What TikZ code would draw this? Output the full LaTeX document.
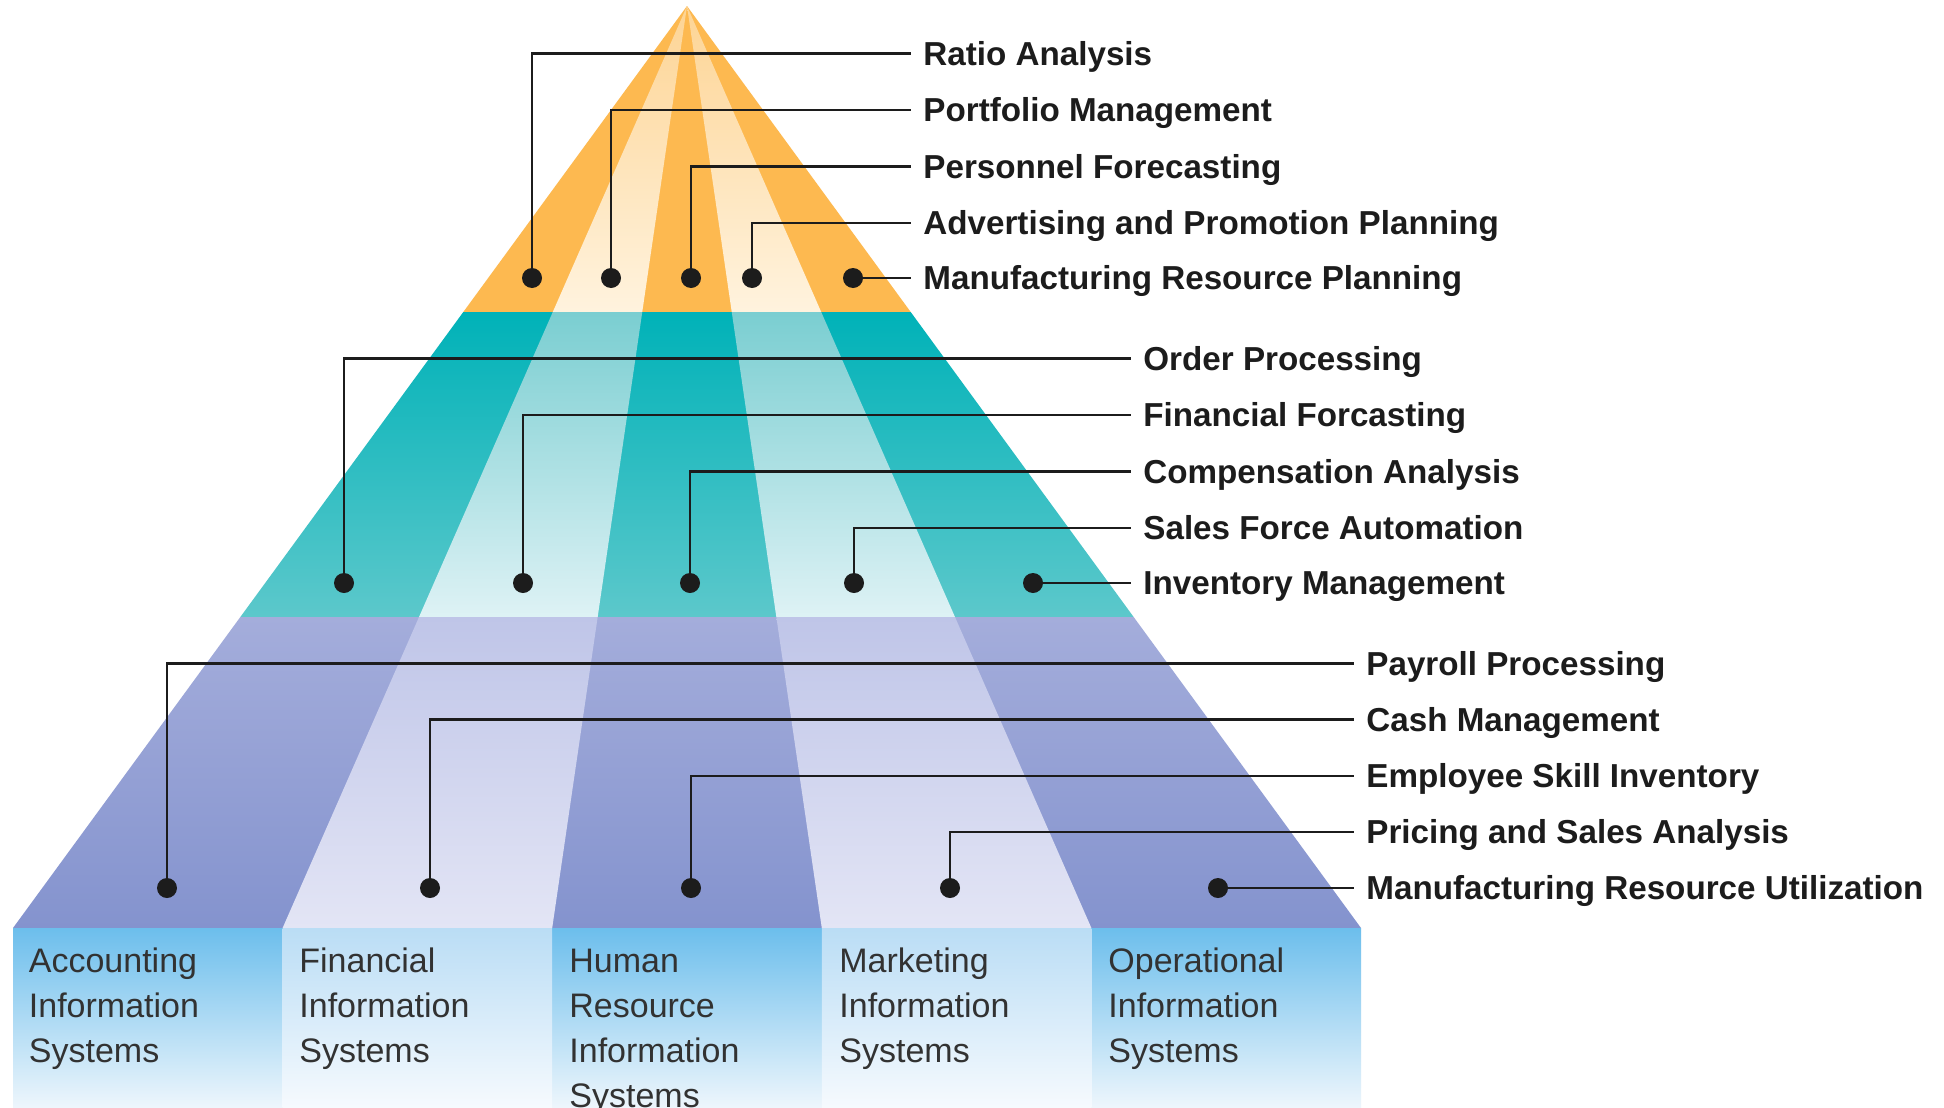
\documentclass[tikz,border=0pt]{standalone}
\usepackage{fontspec}
\setmainfont{Liberation Sans}
\usetikzlibrary{calc}
\definecolor{orD}{RGB}{253,185,80}
\definecolor{orLt}{RGB}{253,212,148}
\definecolor{orLb}{RGB}{255,243,222}
\definecolor{tlDt}{RGB}{0,178,184}
\definecolor{tlDb}{RGB}{92,200,203}
\definecolor{tlLt}{RGB}{122,206,209}
\definecolor{tlLb}{RGB}{222,242,245}
\definecolor{puDt}{RGB}{164,173,219}
\definecolor{puDb}{RGB}{132,147,206}
\definecolor{puLt}{RGB}{191,197,232}
\definecolor{puLb}{RGB}{227,229,245}
\definecolor{bxDt}{RGB}{108,190,236}
\definecolor{bxDb}{RGB}{238,246,252}
\definecolor{bxLt}{RGB}{186,221,245}
\definecolor{bxLb}{RGB}{246,250,254}
\definecolor{ink}{RGB}{28,28,28}
\definecolor{ink2}{RGB}{50,50,50}
\tikzset{
  dot/.style={circle, fill=ink, minimum size=10pt, inner sep=0pt},
  lab/.style={anchor=west, font=\bfseries\fontsize{16.6}{20}\selectfont, text=ink,
    inner xsep=6pt, inner ysep=0pt, text height=11.9pt, text depth=0pt},
  leader/.style={draw=ink, line width=1.3pt},
  boxlab/.style={anchor=north west, font=\fontsize{17}{22.5}\selectfont, text=ink2,
    align=left, inner sep=0pt}
}
\begin{document}
\begin{tikzpicture}[x=0.5pt,y=-0.5pt]
\useasboundingbox (0,0) rectangle (1944,1108);
\fill[white] (0,0) rectangle (1944,1108);
\coordinate (apex) at (687,6);
\foreach \k in {0,...,5} \coordinate (b\k) at ({13+269.6*\k},928);
% tier 1 (orange)
\def\fa{0.33189}\def\fb{0.66269}
\fill[orD] (apex) -- ($(apex)!\fa!(b0)$) -- ($(apex)!\fa!(b5)$) -- cycle;
\foreach \k/\n in {1/2,3/4}
  \shade[top color=orLt, bottom color=orLb] (apex) -- ($(apex)!\fa!(b\k)$) -- ($(apex)!\fa!(b\n)$) -- cycle;
% tier 2 (teal)
\shade[top color=tlDt, bottom color=tlDb] ($(apex)!\fa!(b0)$) -- ($(apex)!\fa!(b5)$) -- ($(apex)!\fb!(b5)$) -- ($(apex)!\fb!(b0)$) -- cycle;
\foreach \k/\n in {1/2,3/4}
  \shade[top color=tlLt, bottom color=tlLb] ($(apex)!\fa!(b\k)$) -- ($(apex)!\fa!(b\n)$) -- ($(apex)!\fb!(b\n)$) -- ($(apex)!\fb!(b\k)$) -- cycle;
% tier 3 (purple)
\shade[top color=puDt, bottom color=puDb] ($(apex)!\fb!(b0)$) -- ($(apex)!\fb!(b5)$) -- (b5) -- (b0) -- cycle;
\foreach \k/\n in {1/2,3/4}
  \shade[top color=puLt, bottom color=puLb] ($(apex)!\fb!(b\k)$) -- ($(apex)!\fb!(b\n)$) -- (b\n) -- (b\k) -- cycle;
% bottom boxes
\shade[top color=bxDt, bottom color=bxDb] (b0) rectangle ($(b5)+(0,180)$);
\foreach \k/\n in {1/2,3/4}
  \shade[top color=bxLt, bottom color=bxLb] (b\k) rectangle ($(b\n)+(0,180)$);
\node[boxlab] (s1) at (28.5,947) {\vphantom{Ml}Accounting\\Information\\Systems};
\node[boxlab] (s2) at (299,947) {\vphantom{Ml}Financial\\Information\\Systems};
\node[boxlab] (s3) at (569,947) {\vphantom{Ml}Human\\Resource\\Information\\Systems};
\node[boxlab] (s4) at (839,947) {\vphantom{Ml}Marketing\\Information\\Systems};
\node[boxlab] (s5) at (1108,947) {\vphantom{Ml}Operational\\Information\\Systems};
% tier 1 labels
\node[lab] (l1a) at (911,53.5) {Ratio Analysis};
\node[lab] (l1b) at (911,110) {Portfolio Management};
\node[lab] (l1c) at (911,166.5) {Personnel Forecasting};
\node[lab] (l1d) at (911,223) {Advertising and Promotion Planning};
\node[lab] (l1e) at (911,278) {Manufacturing Resource Planning};
\node[dot] (d1a) at (532,278) {};
\node[dot] (d1b) at (611,278) {};
\node[dot] (d1c) at (691,278) {};
\node[dot] (d1d) at (752,278) {};
\node[dot] (d1e) at (853,278) {};
% tier 2 labels
\node[lab] (l2a) at (1131,358.5) {Order Processing};
\node[lab] (l2b) at (1131,415) {Financial Forcasting};
\node[lab] (l2c) at (1131,471.5) {Compensation Analysis};
\node[lab] (l2d) at (1131,528) {Sales Force Automation};
\node[lab] (l2e) at (1131,583) {Inventory Management};
\node[dot] (d2a) at (344,583) {};
\node[dot] (d2b) at (523,583) {};
\node[dot] (d2c) at (690,583) {};
\node[dot] (d2d) at (854,583) {};
\node[dot] (d2e) at (1033,583) {};
% tier 3 labels
\node[lab] (l3a) at (1354,663.5) {Payroll Processing};
\node[lab] (l3b) at (1354,719.5) {Cash Management};
\node[lab] (l3c) at (1354,776) {Employee Skill Inventory};
\node[lab] (l3d) at (1354,832) {Pricing and Sales Analysis};
\node[lab] (l3e) at (1354,888) {Manufacturing Resource Utilization};
\node[dot] (d3a) at (167,888) {};
\node[dot] (d3b) at (430,888) {};
\node[dot] (d3c) at (691,888) {};
\node[dot] (d3d) at (950,888) {};
\node[dot] (d3e) at (1218,888) {};
% leaders
\foreach \t in {1,2,3}{
  \foreach \i in {a,b,c,d}
    \draw[leader] (d\t\i) |- (l\t\i.west);
  \draw[leader] (d\t e) -- (l\t e.west);
}
\end{tikzpicture}
\end{document}
